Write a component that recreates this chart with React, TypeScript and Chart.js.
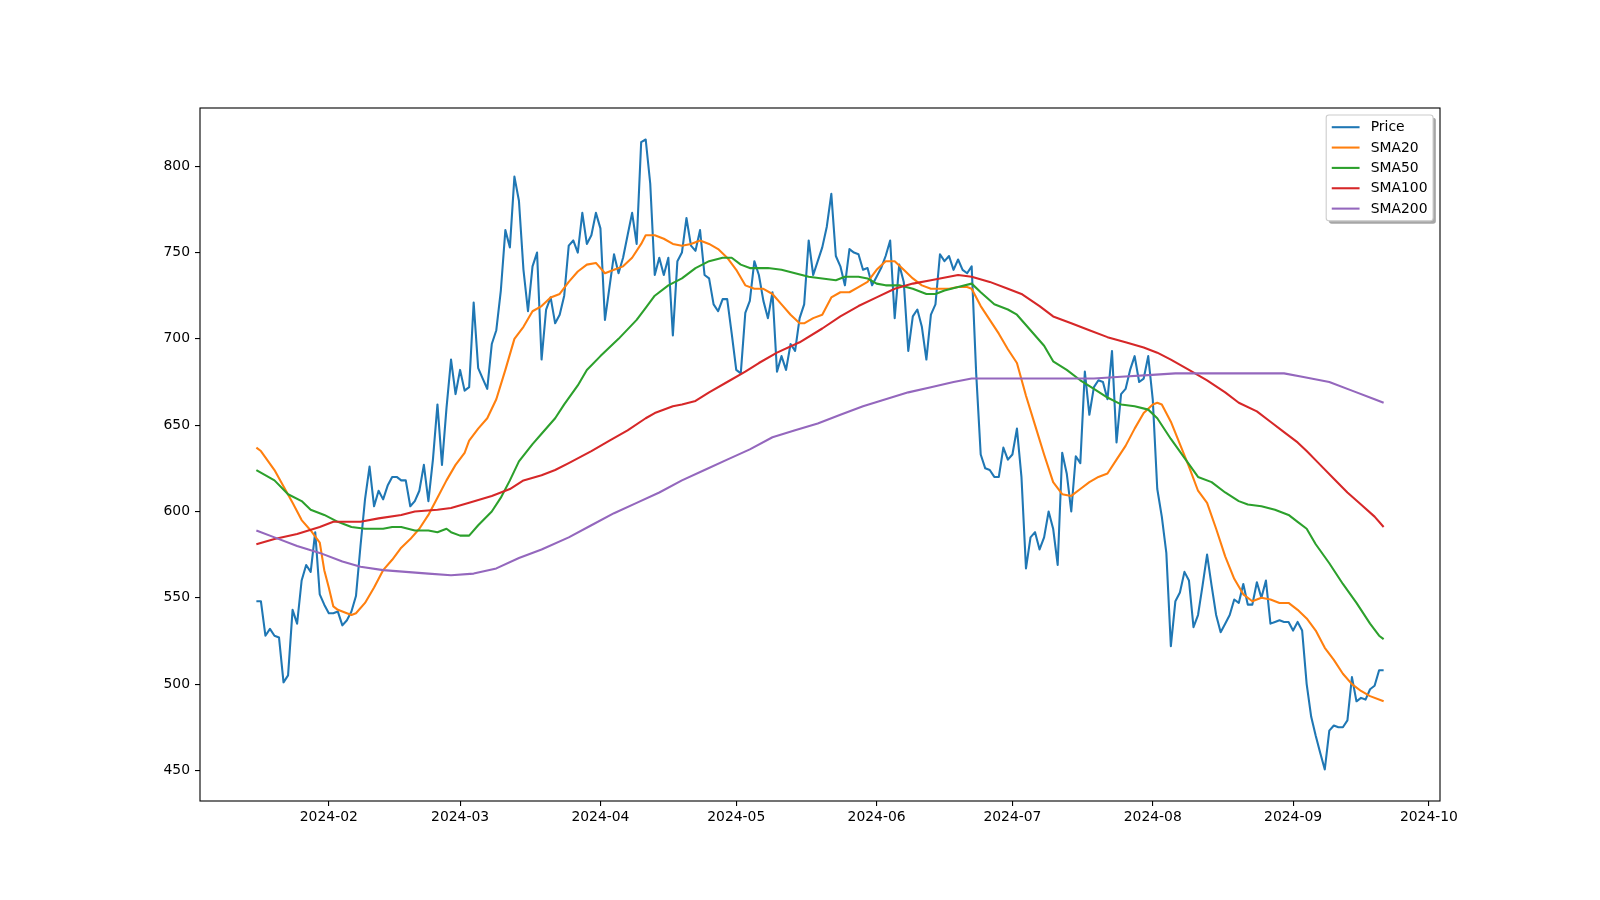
import React, { useEffect, useRef } from "react";
import { Chart, registerables } from "chart.js";

Chart.register(...registerables);

const YEAR = 2024;
const PRICE_START = "2024-01-16";
const PRICE: number[] = [
  548, 548, 528, 532, 528, 527, 501, 505, 543, 535, 560, 569, 565, 588, 552, 546,
  541, 541, 542, 534, 537, 542, 551, 580, 607, 626, 603, 612, 607, 615, 620, 620, 618, 618, 603, 606,
  612, 627, 606, 630, 662, 627, 660, 688, 668,
  682, 670, 672, 721, 683, 677, 671, 697, 705, 728, 763, 753, 794, 780, 740, 716, 742, 750, 688, 717,
  724, 709, 714, 725, 754, 757, 750, 773, 755, 760, 773,
  764, 711, 730, 749, 738, 747, 760, 773, 755, 814, 815.5, 790, 737, 747, 737, 747, 702, 745, 750, 770,
  754, 751, 763, 737, 735, 720, 716, 723, 723, 703,
  682, 680, 715, 722, 745, 737, 722, 712, 727, 681, 690, 682, 697, 693, 712, 720, 757, 737, 745, 753,
  765, 784, 748, 742, 731, 752, 750, 749, 740, 741, 731,
  736, 741, 748, 757, 712, 743, 733, 693, 713, 717, 707, 688, 714, 720, 749, 745, 748, 740, 746, 740,
  738, 742, 680, 633, 625, 624, 620, 620, 637, 630,
  633, 648, 620, 567, 585, 588, 578, 585, 600, 590, 569, 634, 622, 600, 632, 628, 681, 656, 672, 676,
  675, 665, 693, 640, 668, 671, 682, 690, 675, 677, 690,
  665, 613, 597, 576, 522, 548, 553, 565, 560, 533, 540, 557, 575, 557, 540, 530, 535, 540, 549, 547,
  558, 546, 546, 559, 550, 560, 535, 536, 537, 536, 536,
  531, 536, 531, 500, 481, 470, 460, 450.5, 473, 476, 475, 475, 479, 504, 490, 492, 491, 497, 499, 508, 508,
];

const SMA20: [string, number][] = [
  ["01-16", 637], ["01-17", 635], ["01-20", 624], ["01-24", 605], ["01-26", 595], ["01-28", 589],
  ["01-30", 582], ["01-31", 566], ["02-01", 556], ["02-02", 545], ["02-03", 543], ["02-05", 541],
  ["02-06", 540], ["02-07", 541], ["02-09", 547], ["02-11", 556], ["02-13", 566], ["02-15", 572],
  ["02-17", 579], ["02-19", 584], ["02-21", 590], ["02-23", 598], ["02-25", 608], ["02-27", 618],
  ["02-29", 627], ["03-02", 634], ["03-03", 641], ["03-05", 648], ["03-07", 654], ["03-09", 665],
  ["03-11", 682], ["03-13", 700], ["03-15", 707], ["03-17", 716], ["03-19", 719], ["03-21", 724],
  ["03-23", 726], ["03-25", 733], ["03-27", 739], ["03-29", 743], ["03-31", 744], ["04-02", 738],
  ["04-04", 740], ["04-06", 742], ["04-08", 747], ["04-10", 755], ["04-11", 760], ["04-13", 760],
  ["04-15", 758], ["04-17", 755], ["04-19", 754], ["04-21", 755], ["04-23", 757], ["04-25", 755],
  ["04-27", 752], ["04-29", 747], ["05-01", 740], ["05-03", 731], ["05-05", 729], ["05-07", 729],
  ["05-09", 726], ["05-11", 720], ["05-13", 714], ["05-15", 709], ["05-16", 709], ["05-18", 712],
  ["05-20", 714], ["05-22", 724], ["05-24", 727], ["05-26", 727], ["05-28", 730], ["05-30", 733],
  ["06-01", 740], ["06-03", 745], ["06-05", 745], ["06-07", 740], ["06-09", 735], ["06-11", 731],
  ["06-13", 729], ["06-15", 729], ["06-17", 729], ["06-19", 730], ["06-21", 730], ["06-22", 729],
  ["06-24", 719], ["06-26", 711], ["06-28", 703], ["06-30", 694], ["07-02", 686], ["07-04", 667],
  ["07-06", 650], ["07-08", 633], ["07-10", 617], ["07-12", 610], ["07-14", 609], ["07-16", 613],
  ["07-18", 617], ["07-20", 620], ["07-22", 622], ["07-24", 630], ["07-26", 638], ["07-28", 648],
  ["07-30", 657], ["08-01", 662], ["08-02", 663], ["08-03", 662], ["08-05", 652], ["08-07", 639],
  ["08-09", 626], ["08-11", 612], ["08-13", 605], ["08-15", 590], ["08-17", 574], ["08-19", 561],
  ["08-21", 552], ["08-23", 548], ["08-25", 550], ["08-27", 549], ["08-29", 547], ["08-31", 547],
  ["09-02", 543], ["09-04", 538], ["09-06", 531], ["09-08", 521], ["09-10", 514], ["09-12", 506],
  ["09-14", 500], ["09-16", 496], ["09-18", 493], ["09-21", 490],
];

const SMA50: [string, number][] = [
  ["01-16", 624], ["01-20", 618], ["01-23", 610], ["01-26", 606], ["01-28", 601], ["01-31", 598],
  ["02-03", 594], ["02-06", 591], ["02-09", 590], ["02-13", 590], ["02-15", 591], ["02-17", 591],
  ["02-20", 589], ["02-23", 589], ["02-25", 588], ["02-27", 590], ["02-28", 588], ["03-01", 586],
  ["03-03", 586], ["03-05", 592], ["03-08", 600], ["03-10", 608], ["03-12", 618], ["03-14", 629],
  ["03-17", 639], ["03-19", 645], ["03-22", 654], ["03-24", 662], ["03-27", 673], ["03-29", 682],
  ["04-01", 690], ["04-05", 700], ["04-09", 711], ["04-11", 718], ["04-13", 725], ["04-16", 731],
  ["04-19", 735], ["04-22", 741], ["04-25", 745], ["04-28", 747], ["04-30", 747], ["05-02", 743],
  ["05-04", 741], ["05-08", 741], ["05-11", 740], ["05-14", 738], ["05-17", 736], ["05-20", 735],
  ["05-23", 734], ["05-25", 736], ["05-28", 736], ["05-30", 735], ["06-01", 732], ["06-03", 731],
  ["06-06", 731], ["06-09", 729], ["06-12", 726], ["06-14", 726], ["06-16", 728], ["06-19", 730],
  ["06-22", 732], ["06-24", 727], ["06-27", 720], ["06-30", 717], ["07-02", 714], ["07-05", 705],
  ["07-08", 696], ["07-10", 687], ["07-13", 682], ["07-16", 676], ["07-19", 671], ["07-22", 666],
  ["07-25", 662], ["07-28", 661], ["07-31", 659], ["08-02", 654], ["08-05", 642], ["08-08", 631],
  ["08-11", 620], ["08-14", 617], ["08-17", 611], ["08-20", 606], ["08-22", 604], ["08-25", 603],
  ["08-28", 601], ["08-31", 598], ["09-02", 594], ["09-04", 590], ["09-06", 581], ["09-09", 570],
  ["09-12", 558], ["09-15", 547], ["09-18", 535], ["09-20", 528], ["09-21", 526],
];

const SMA100: [string, number][] = [
  ["01-16", 581], ["01-20", 584], ["01-25", 587], ["01-30", 591], ["02-02", 594], ["02-06", 594],
  ["02-08", 594], ["02-12", 596], ["02-17", 598], ["02-20", 600], ["02-25", 601], ["02-28", 602],
  ["03-03", 605], ["03-08", 609], ["03-12", 613], ["03-15", 618], ["03-19", 621], ["03-22", 624],
  ["03-25", 628], ["03-30", 635], ["04-03", 641], ["04-07", 647], ["04-11", 654], ["04-13", 657],
  ["04-17", 661], ["04-19", 662], ["04-22", 664], ["04-25", 669], ["04-29", 675], ["05-03", 681],
  ["05-06", 686], ["05-10", 692], ["05-15", 698], ["05-20", 706], ["05-24", 713], ["05-28", 719],
  ["06-01", 724], ["06-05", 729], ["06-09", 732], ["06-13", 734], ["06-17", 736], ["06-19", 737],
  ["06-22", 736], ["06-26", 733], ["06-30", 729], ["07-03", 726], ["07-07", 719], ["07-10", 713],
  ["07-14", 709], ["07-18", 705], ["07-22", 701], ["07-26", 698], ["07-30", 695], ["08-02", 692],
  ["08-05", 688], ["08-09", 682], ["08-13", 676], ["08-17", 669], ["08-20", 663], ["08-24", 658],
  ["08-27", 652], ["08-30", 646], ["09-02", 640], ["09-04", 635], ["09-07", 627], ["09-10", 619],
  ["09-13", 611], ["09-16", 604], ["09-19", 597], ["09-21", 591],
];

const SMA200: [string, number][] = [
  ["01-16", 589], ["01-20", 585], ["01-25", 580], ["01-30", 576], ["02-04", 571], ["02-08", 568],
  ["02-13", 566], ["02-18", 565], ["02-23", 564], ["02-28", 563], ["03-04", 564], ["03-09", 567],
  ["03-14", 573], ["03-19", 578], ["03-25", 585], ["03-30", 592], ["04-04", 599], ["04-09", 605],
  ["04-14", 611], ["04-19", 618], ["04-24", 624], ["04-29", 630], ["05-04", 636], ["05-09", 643],
  ["05-14", 647], ["05-19", 651], ["05-24", 656], ["05-29", 661], ["06-03", 665], ["06-08", 669],
  ["06-13", 672], ["06-18", 675], ["06-22", 677], ["06-25", 677], ["07-01", 677], ["07-07", 677],
  ["07-13", 677], ["07-19", 677], ["07-25", 678], ["07-31", 679], ["08-06", 680], ["08-12", 680],
  ["08-18", 680], ["08-24", 680], ["08-30", 680], ["09-03", 678], ["09-09", 675], ["09-14", 670],
  ["09-19", 665], ["09-21", 663],
];

const SERIES_NAMES = ["Price", "SMA20", "SMA50", "SMA100", "SMA200"];
const SERIES_COLORS = ["#1f77b4", "#ff7f0e", "#2ca02c", "#d62728", "#9467bd"];
const Y_TICKS = [450, 500, 550, 600, 650, 700, 750, 800];
const X_TICK_MONTHS = ["2024-02", "2024-03", "2024-04", "2024-05", "2024-06", "2024-07", "2024-08", "2024-09", "2024-10"];

const FONT = '"DejaVu Sans", sans-serif';
const FS = 13.9;

function dayIndex(iso: string): number {
  const [y, m, d] = iso.split("-").map(Number);
  return (Date.UTC(y, m - 1, d) - Date.UTC(YEAR, 0, 1)) / 86400000;
}

function smaPoints(arr: [string, number][]) {
  return arr.map(([md, v]) => ({ x: dayIndex(`${YEAR}-${md}`), y: v }));
}

function roundRect(ctx: CanvasRenderingContext2D, x: number, y: number, w: number, h: number, r: number) {
  ctx.beginPath();
  ctx.moveTo(x + r, y);
  ctx.lineTo(x + w - r, y);
  ctx.arcTo(x + w, y, x + w, y + r, r);
  ctx.lineTo(x + w, y + h - r);
  ctx.arcTo(x + w, y + h, x + w - r, y + h, r);
  ctx.lineTo(x + r, y + h);
  ctx.arcTo(x, y + h, x, y + h - r, r);
  ctx.lineTo(x, y + r);
  ctx.arcTo(x, y, x + r, y, r);
  ctx.closePath();
}

const mplPlugin = {
  id: "mplFrameLegend",
  afterDatasetsDraw(chart: any) {
    const { ctx, chartArea: a } = chart;
    ctx.save();
    ctx.strokeStyle = "#000";
    ctx.lineWidth = 1.1;
    ctx.strokeRect(a.left, a.top, a.right - a.left, a.bottom - a.top);
    ctx.restore();
  },
  afterDraw(chart: any) {
    const { ctx, chartArea: a } = chart;
    ctx.save();
    ctx.font = `${FS}px ${FONT}`;
    const pad = 0.4 * FS;
    const handleLen = 2.0 * FS;
    const handlePad = 0.8 * FS;
    const spacing = 0.5 * FS;
    const textH = 13.4;
    let maxW = 0;
    SERIES_NAMES.forEach((n) => (maxW = Math.max(maxW, ctx.measureText(n).width)));
    const w = pad + handleLen + handlePad + maxW + pad;
    const h = 2 * pad + SERIES_NAMES.length * textH + (SERIES_NAMES.length - 1) * spacing;
    const right = a.right - 0.5 * FS;
    const left = right - w;
    const top = a.top + 0.5 * FS;
    const r = 0.2 * FS;
    roundRect(ctx, left + 2.8, top + 2.8, w, h, r);
    ctx.fillStyle = "rgba(77,77,77,0.5)";
    ctx.fill();
    roundRect(ctx, left, top, w, h, r);
    ctx.fillStyle = "#ffffff";
    ctx.fill();
    ctx.strokeStyle = "#cccccc";
    ctx.lineWidth = 1.1;
    ctx.stroke();
    ctx.textBaseline = "middle";
    ctx.textAlign = "left";
    SERIES_NAMES.forEach((n, i) => {
      const cy = top + pad + textH / 2 + i * (textH + spacing);
      ctx.strokeStyle = SERIES_COLORS[i];
      ctx.lineWidth = 2.08;
      ctx.beginPath();
      ctx.moveTo(left + pad, cy);
      ctx.lineTo(left + pad + handleLen, cy);
      ctx.stroke();
      ctx.fillStyle = "#000";
      ctx.fillText(n, left + pad + handleLen + handlePad, cy + 0.5);
    });
    ctx.restore();
  },
};

export default function App() {
  const canvasRef = useRef<HTMLCanvasElement | null>(null);

  useEffect(() => {
    if (!canvasRef.current) return;
    const start = dayIndex(PRICE_START);
    const pricePts = PRICE.map((v, i) => ({ x: start + i, y: v }));
    const all = [pricePts, smaPoints(SMA20), smaPoints(SMA50), smaPoints(SMA100), smaPoints(SMA200)];
    const xs = all.flat().map((p) => p.x);
    const ys = all.flat().map((p) => p.y);
    const xLo = Math.min(...xs), xHi = Math.max(...xs);
    const yLo = Math.min(...ys), yHi = Math.max(...ys);
    const xm = (xHi - xLo) * 0.05, ym = (yHi - yLo) * 0.05;
    const monthTicks = X_TICK_MONTHS.map((m) => dayIndex(`${m}-01`));

    const chart = new Chart(canvasRef.current, {
      type: "line",
      data: {
        datasets: all.map((pts, i) => ({
          label: SERIES_NAMES[i],
          data: pts,
          borderColor: SERIES_COLORS[i],
          backgroundColor: SERIES_COLORS[i],
          borderWidth: 2.08,
          pointRadius: 0,
          tension: 0,
          fill: false,
          borderJoinStyle: "round" as const,
          order: SERIES_NAMES.length - i,
        })),
      },
      options: {
        animation: false,
        responsive: true,
        maintainAspectRatio: false,
        events: [],
        layout: { padding: { left: 0, top: 108, right: 160, bottom: 0 } },
        plugins: { legend: { display: false }, tooltip: { enabled: false }, title: { display: false } },
        scales: {
          x: {
            type: "linear",
            min: xLo - xm,
            max: xHi + xm,
            afterBuildTicks: (s: any) => {
              s.ticks = monthTicks.map((v) => ({ value: v }));
            },
            afterFit: (s: any) => {
              s.height = 99;
            },
            ticks: {
              autoSkip: false,
              maxRotation: 0,
              minRotation: 0,
              padding: 3,
              color: "#000",
              font: { family: FONT, size: FS },
              callback: (v: any) => {
                const i = monthTicks.indexOf(Number(v));
                return i >= 0 ? X_TICK_MONTHS[i] : "";
              },
            },
            grid: { display: true, drawOnChartArea: false, drawTicks: true, tickLength: 5, color: "#000", lineWidth: 1.1 },
            border: { display: false },
          },
          y: {
            type: "linear",
            min: yLo - ym,
            max: yHi + ym,
            afterBuildTicks: (s: any) => {
              s.ticks = Y_TICKS.map((v) => ({ value: v }));
            },
            afterFit: (s: any) => {
              s.width = 200;
            },
            ticks: {
              autoSkip: false,
              padding: 5,
              color: "#000",
              font: { family: FONT, size: FS },
              callback: (v: any) => String(v),
            },
            grid: { display: true, drawOnChartArea: false, drawTicks: true, tickLength: 5, color: "#000", lineWidth: 1.1 },
            border: { display: false },
          },
        },
      },
      plugins: [mplPlugin],
    });
    return () => chart.destroy();
  }, []);

  return (
    <div style={{ position: "fixed", left: 0, top: 0, width: 1600, height: 900, background: "#fff" }}>
      <canvas ref={canvasRef} />
    </div>
  );
}
